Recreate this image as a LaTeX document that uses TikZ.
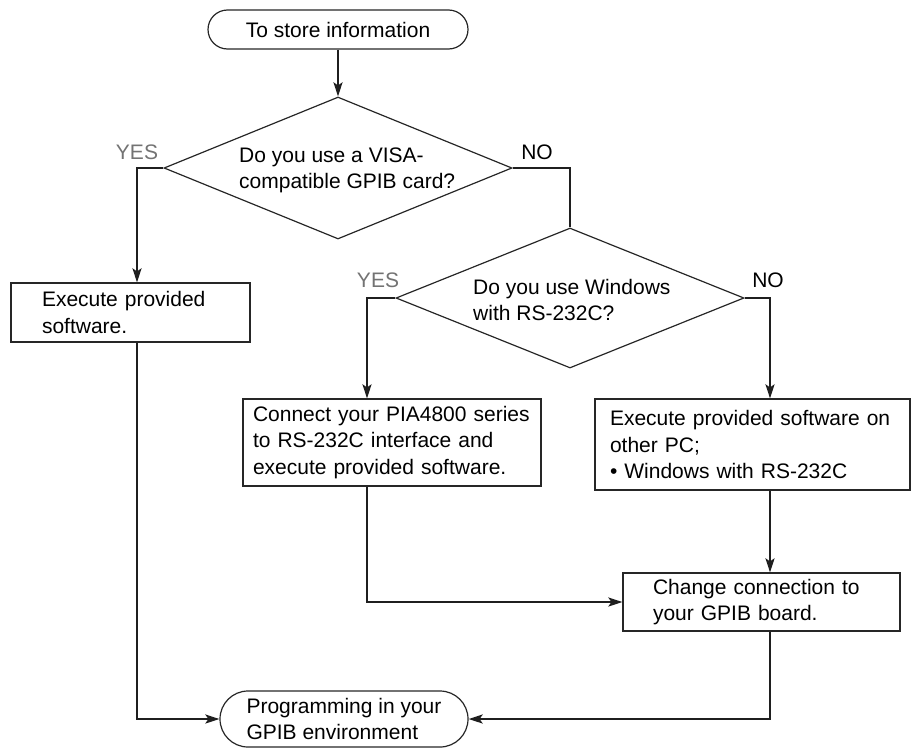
\documentclass[tikz,border=0pt]{standalone}
\usepackage{fontspec}
\setmainfont{Liberation Sans}
\usetikzlibrary{shapes.geometric,shapes.misc,arrows.meta}
\begin{document}
\begin{tikzpicture}[x=1pt,y=-1pt,
  every node/.style={font=\fontsize{21}{26.5}\selectfont},
  term/.style={rounded rectangle, draw=black!85, line width=1.2pt, inner sep=0pt},
  dia/.style={diamond, draw=black!85, line width=1.2pt, inner sep=0pt},
  box/.style={rectangle, draw=black!85, line width=1.2pt, align=left, inner ysep=0pt},
  dtext/.style={anchor=west, align=left, inner sep=0pt},
  yeslbl/.style={text=black!55, inner sep=0pt},
  nolbl/.style={text=black, inner sep=0pt},
  conn/.style={draw=black!88, line width=2.3pt, -{Stealth[length=14pt,width=9pt,inset=3pt]}},
  plain/.style={draw=black!88, line width=2.3pt}
]
\useasboundingbox (0,0) rectangle (912,747);

% terminals
\node[term, minimum width=260pt, minimum height=39pt] (start) at (338,29.5) {To store information};
\node[term, minimum width=248pt, minimum height=56pt, align=left] (end) at (344,719) {Programming in your\\GPIB environment};

% diamonds
\node[dia, minimum width=348pt, minimum height=142pt] (d1) at (338,168) {};
\node[dtext] (t1) at (239,170.5) {Do you use a VISA-\\compatible GPIB card?};
\node[dia, minimum width=348pt, minimum height=140pt] (d2) at (570,298) {};
\node[dtext] (t2) at (473,300) {Do you use Windows\\with RS-232C?};

% labels
\node[yeslbl] (y1) at (137,152) {YES};
\node[nolbl] (n1) at (537,152) {NO};
\node[yeslbl] (y2) at (378,280) {YES};
\node[nolbl] (n2) at (768,280) {NO};

% boxes
\node[box, minimum width=239pt, minimum height=59pt, text width=177pt, inner xsep=31pt] (exe) at (130.5,312.5) {Execute provided\\software.};
\node[box, minimum width=298pt, minimum height=87pt, text width=278pt, inner xsep=10pt] (conn) at (392,442.5) {Connect your PIA4800 series\\to RS-232C interface and\\execute provided software.};
\node[box, minimum width=315pt, minimum height=91pt, text width=285pt, inner xsep=15pt] (other) at (752.5,444.5) {Execute provided software on\\other PC;\\\textbullet\ Windows with RS-232C};
\node[box, minimum width=277pt, minimum height=58pt, text width=217pt, inner xsep=30pt] (chg) at (761.5,602) {Change connection to\\your GPIB board.};

% helper coordinates for vertical runs
\coordinate (c1) at (137,168);
\coordinate (c2) at (367,298);
\coordinate (c3) at (770,298);

% connectors
\draw[conn] (start.south) -- (d1.north);
\draw[conn] (d1.west) -| (exe.north -| c1);
\draw[plain] (d1.east) -| (d2.north);
\draw[conn] (d2.west) -| (conn.north -| c2);
\draw[conn] (d2.east) -| (other.north -| c3);
\draw[conn] (other.south -| c3) -- (chg.north -| c3);
\draw[conn] (conn.south -| c2) |- (chg.west);
\draw[conn] (exe.south -| c1) |- (end.west);
\draw[conn] (chg.south -| c3) |- (end.east);
\end{tikzpicture}
\end{document}
